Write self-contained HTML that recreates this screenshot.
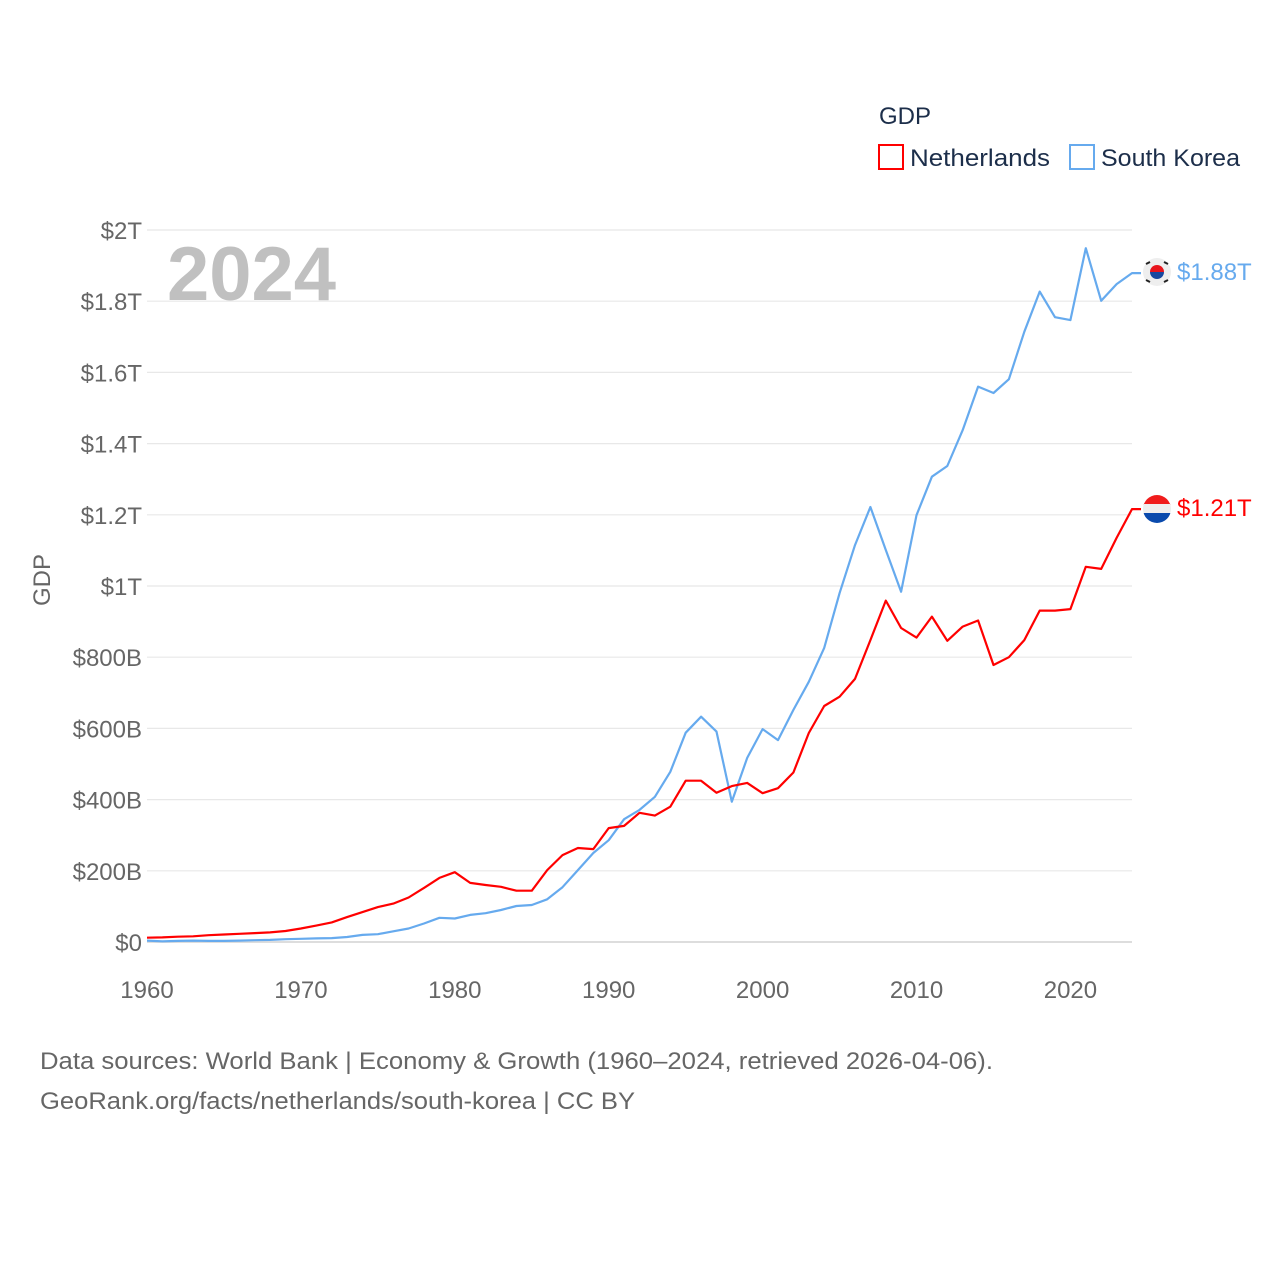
<!DOCTYPE html>
<html><head><meta charset="utf-8"><style>
html,body{margin:0;padding:0;background:#fff;}
body{width:1280px;height:1280px;overflow:hidden;font-family:"Liberation Sans",sans-serif;}
</style></head><body>
<svg id="chart" width="1280" height="1280" xmlns="http://www.w3.org/2000/svg" font-family="Liberation Sans, sans-serif">
<g id="grid"></g>
<g id="yticks"></g>
<g id="xticks"></g>
<text x="167" y="300" font-size="76" font-weight="bold" fill="#c0c0c0">2024</text>
<text transform="translate(50,580) rotate(-90)" text-anchor="middle" font-size="24" fill="#666">GDP</text>
<g id="series"></g>
<g>
<text x="879" y="124" font-size="24" fill="#1c2e4a">GDP</text>
<g>
<rect x="879" y="145" width="24" height="24" fill="none" stroke="#ff0000" stroke-width="2"/>
<text x="910" y="166" font-size="24" fill="#1c2e4a" textLength="140" lengthAdjust="spacingAndGlyphs">Netherlands</text></g>
<g>
<rect x="1070" y="145" width="24" height="24" fill="none" stroke="#66aaee" stroke-width="2"/>
<text x="1101" y="166" font-size="24" fill="#1c2e4a" textLength="139" lengthAdjust="spacingAndGlyphs">South Korea</text></g>
</g>
<g>
<circle cx="1157" cy="272" r="14" fill="#eee"/>
<path d="M1150,272 a7,7 0 0 1 14,0 z" fill="#e8141c"/>
<path d="M1150,272 a7,7 0 0 0 14,0 z" fill="#1848a0"/>
<g stroke="#222" stroke-width="2"><line x1="1146" y1="264" x2="1150" y2="262"/><line x1="1164" y1="262" x2="1168" y2="264"/><line x1="1146" y1="280" x2="1150" y2="282"/><line x1="1164" y1="282" x2="1168" y2="280"/></g>
</g>
<g>
<clipPath id="nlc"><circle cx="1157" cy="509" r="14"/></clipPath>
<g clip-path="url(#nlc)"><rect x="1143" y="495" width="28" height="10" fill="#f01c1c"/><rect x="1143" y="504" width="28" height="10" fill="#eee"/><rect x="1143" y="513" width="28" height="10" fill="#0a4aad"/></g>
</g>
<text x="1177" y="280" font-size="24" fill="#66aaee">$1.88T</text>
<text x="1177" y="516" font-size="24" fill="#ff0000">$1.21T</text>
<text x="40" y="1069" font-size="24" fill="#666" textLength="953" lengthAdjust="spacingAndGlyphs">Data sources: World Bank | Economy &amp; Growth (1960–2024, retrieved 2026-04-06).</text>
<text x="40" y="1109" font-size="24" fill="#666" textLength="595" lengthAdjust="spacingAndGlyphs">GeoRank.org/facts/netherlands/south-korea | CC BY</text>
</svg>
<script>
const years = [];
for (let y = 1960; y <= 2024; y++) years.push(y);
const netherlands = [12,13,15,16,19,21,23,25,27,31,38,46,55,70,84,98,108,125,152,180,196,166,160,155,144,144,202,244,264,261,320,326,363,355,380,453,453,419,438,447,418,432,476,587,663,689,739,848,959,882,855,914,846,886,903,778,800,848,931,931,935,1054,1048,1135,1216];
const southKorea = [4,2,3,4,3,3,4,5,6,8,9,10,11,14,20,22,30,38,52,68,66,76,81,90,101,104,120,154,202,250,286,345,371,408,478,588,633,591,394,517,598,567,652,731,826,980,1115,1222,1101,984,1199,1307,1337,1438,1560,1542,1581,1714,1827,1755,1747,1949,1801,1848,1879];
const yTickVals = [0,200,400,600,800,1000,1200,1400,1600,1800,2000];
const yTickLabels = ["$0","$200B","$400B","$600B","$800B","$1T","$1.2T","$1.4T","$1.6T","$1.8T","$2T"];
const xTickVals = [1960,1970,1980,1990,2000,2010,2020];

const NS = "http://www.w3.org/2000/svg";
const X0 = 147, X1 = 1132, Y0 = 942, Y1 = 230;
const xs = y => X0 + (y - 1960) / (2024 - 1960) * (X1 - X0);
const ys = v => Y0 - v / 2000 * (Y0 - Y1);

const grid = document.getElementById('grid');
const yt = document.getElementById('yticks');
yTickVals.forEach((v, i) => {
  const l = document.createElementNS(NS, 'line');
  
  
  l.setAttribute('x1', X0); l.setAttribute('x2', X1);
  l.setAttribute('y1', ys(v)); l.setAttribute('y2', ys(v));
  l.setAttribute('stroke', i === 0 ? '#dddddd' : '#e8e8e8');
  l.setAttribute('stroke-width', i === 0 ? 2 : 1.2);
  grid.appendChild(l);
  const t = document.createElementNS(NS, 'text');
  
  
  t.setAttribute('x', 142); t.setAttribute('y', ys(v) + 9);
  t.setAttribute('text-anchor', 'end'); t.setAttribute('font-size', '24'); t.setAttribute('fill', '#666');
  t.textContent = yTickLabels[i];
  yt.appendChild(t);
});
const xt = document.getElementById('xticks');
xTickVals.forEach(v => {
  const t = document.createElementNS(NS, 'text');
  
  
  t.setAttribute('x', xs(v)); t.setAttribute('y', 998);
  t.setAttribute('text-anchor', 'middle'); t.setAttribute('font-size', '24'); t.setAttribute('fill', '#666');
  t.textContent = v;
  xt.appendChild(t);
});
const sg = document.getElementById('series');
function line(data, color, name) {
  let d = data.map((v, i) => (i ? 'L' : 'M') + xs(years[i]).toFixed(1) + ',' + ys(v).toFixed(1)).join('');
  d += 'L' + (X1 + 9) + ',' + ys(data[data.length - 1]).toFixed(1);
  const p = document.createElementNS(NS, 'path');
  
  
  p.setAttribute('d', d); p.setAttribute('fill', 'none');
  p.setAttribute('stroke', color); p.setAttribute('stroke-width', 2.2);
  p.setAttribute('stroke-linejoin', 'round');
  sg.appendChild(p);
}
line(southKorea, '#66aaee', 'south-korea-line');
line(netherlands, '#ff0000', 'netherlands-line');
</script>
</body></html>
